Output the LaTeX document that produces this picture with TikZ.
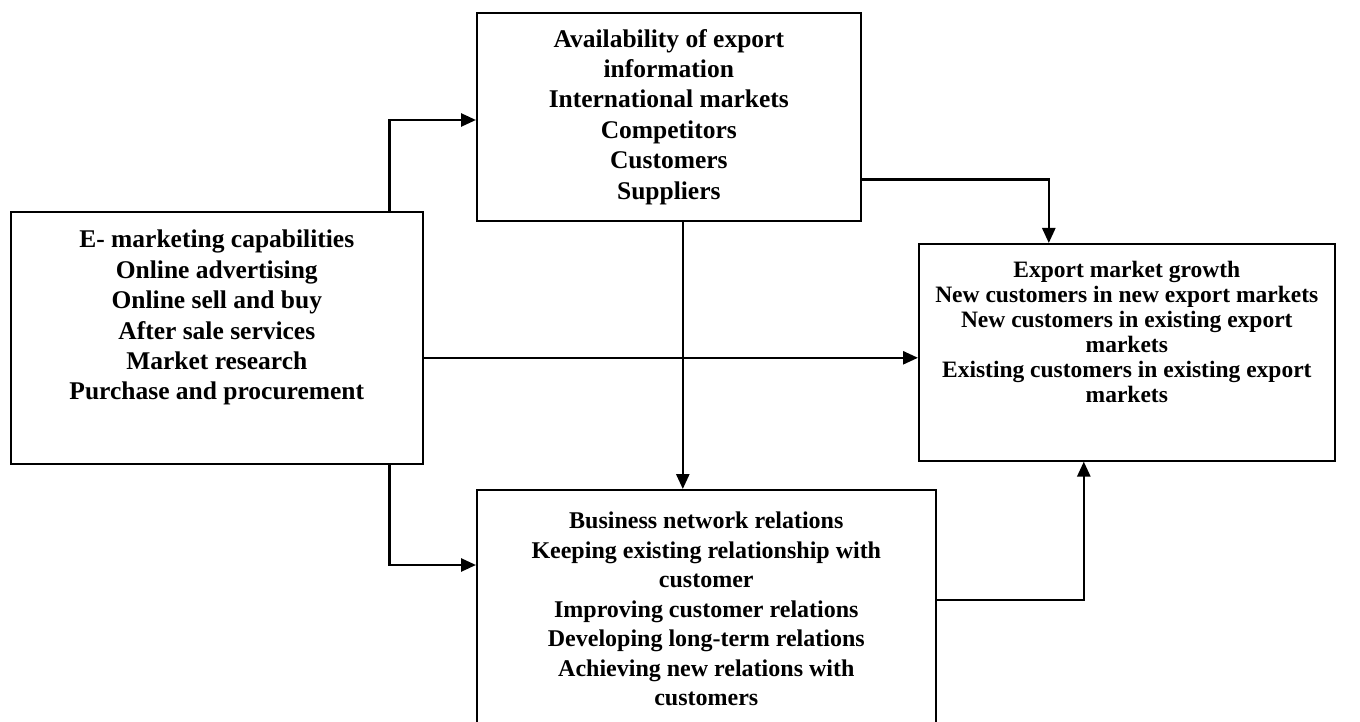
\documentclass[tikz,border=0pt]{standalone}
\usepackage{fontspec}
\setmainfont{Liberation Serif}
\usetikzlibrary{arrows.meta,positioning}

\begin{document}
\begin{tikzpicture}[x=1pt,y=-1pt,
    box/.style={draw,line width=1.6pt,anchor=north west,inner sep=0pt},
    words/.style={align=center,anchor=north,inner sep=0pt,
      font=\fontsize{24}{29.5}\selectfont\bfseries},
    big/.style={words,font=\fontsize{25.5}{30.4}\selectfont\bfseries},
    small/.style={words,font=\fontsize{23.5}{25}\selectfont\bfseries},
    flow/.style={line width=2.6pt,-{Triangle[length=15pt,width=13pt]}}]
  \path[use as bounding box,clip] (0,0) rectangle (1360,722);

  % boxes
  \node[box,minimum width=384pt,minimum height=208pt] (info) at (476,12) {};
  \node[box,minimum width=412pt,minimum height=252pt] (emk) at (10,211) {};
  \node[box,minimum width=416pt,minimum height=217pt] (growth) at (918,243) {};
  \node[box,minimum width=459pt,minimum height=280pt] (rel) at (476,489) {};

  % texts
  \node[big,below=17pt of info.north] (infotext) {Availability of export\\information\\International markets\\Competitors\\Customers\\Suppliers};
  \node[big,below=19pt of emk.north] (emktext) {E- marketing capabilities\\Online advertising\\Online sell and buy\\After sale services\\Market research\\Purchase and procurement};
  \node[small,below=18pt of growth.north] (growthtext) {Export market growth\\New customers in new export markets\\New customers in existing export\\markets\\Existing customers in existing export\\markets};
  \node[words,below=23pt of rel.north] (reltext) {Business network relations\\Keeping existing relationship with\\customer\\Improving customer relations\\Developing long-term relations\\Achieving new relations with\\customers};

  % connectors
  \draw[flow] ([xshift=-34pt]emk.north east) |- ([yshift=-108pt]info.north west);
  \draw[flow] ([xshift=-34pt]emk.south east) |- ([yshift=-76pt]rel.north west);
  \draw[flow] ([yshift=-20pt]emk.east) -- ([yshift=-20pt]emk.east -| growth.west);
  \draw[flow] ([xshift=14pt]info.south) -- ([xshift=14pt]info.south |- rel.north);
  \draw[flow] ([yshift=42pt]info.south east) -| ([xshift=-78pt]growth.north);
  \draw[flow] ([yshift=-111pt]rel.north east) -| ([xshift=-43pt]growth.south);
\end{tikzpicture}
\end{document}
